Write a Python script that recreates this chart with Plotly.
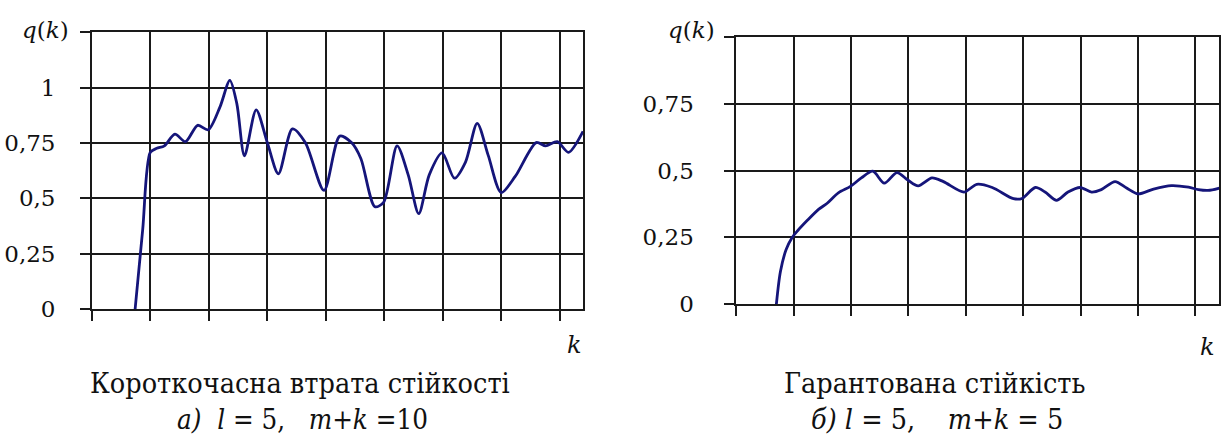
import plotly.graph_objects as go

W, H = 1221, 446

# ---- data (k in grid units, q(k)) ----
left_k = [0.74, 0.87, 1.0, 1.11, 1.24, 1.42, 1.6, 1.81, 1.99, 2.19, 2.36, 2.48, 2.61, 2.81, 3.0, 3.19,
          3.43, 3.65, 3.97, 4.24, 4.44, 4.6, 4.84, 4.99, 5.22, 5.41, 5.59, 5.77, 5.99, 6.2,
          6.39, 6.59, 6.78, 7.0, 7.24, 7.6, 7.76, 7.96, 8.15, 8.4]
left_q = [0.0, 0.36, 0.708, 0.726, 0.737, 0.79, 0.756, 0.83, 0.81, 0.912, 1.033, 0.927, 0.692, 0.9, 0.752, 0.611,
          0.814, 0.752, 0.536, 0.781, 0.752, 0.68, 0.462, 0.482, 0.737, 0.606, 0.431, 0.606, 0.705, 0.591,
          0.664, 0.839, 0.693, 0.526, 0.599, 0.752, 0.737, 0.756, 0.708, 0.803]

right_k = [0.70, 0.77, 0.87, 0.97, 1.07, 1.24, 1.44, 1.58, 1.78, 1.99, 2.18, 2.38, 2.58, 2.80, 2.99,
           3.17, 3.41, 3.61, 3.97, 4.19, 4.46, 4.83, 4.98, 5.21, 5.38, 5.58, 5.78, 5.99, 6.19,
           6.36, 6.60, 6.80, 7.0, 7.27, 7.58, 7.88, 8.05, 8.22, 8.42]
right_q = [0.0, 0.121, 0.205, 0.248, 0.275, 0.314, 0.356, 0.377, 0.417, 0.441, 0.473, 0.498, 0.453, 0.493,
           0.465, 0.443, 0.473, 0.459, 0.420, 0.449, 0.437, 0.395, 0.396, 0.437, 0.420, 0.389, 0.420,
           0.437, 0.420, 0.429, 0.459, 0.435, 0.413, 0.431, 0.444, 0.438, 0.429, 0.426, 0.435]

left_yticks = [0, 0.25, 0.5, 0.75, 1.0, 1.25]
left_ylabels = ["0", "0,25", "0,5", "0,75", "1", ""]
right_yticks = [0, 0.25, 0.5, 0.75, 1.0]
right_ylabels = ["0", "0,25", "0,5", "0,75", ""]
xticks = list(range(0, 9))

captions_left = ["Короткочасна втрата стійкості", "<i>а)</i>  <i>l</i> = 5,   <i>m</i>+<i>k</i> =10"]
captions_right = ["Гарантована стійкість", "<i>б)</i> <i>l</i> = 5,    <i>m</i>+<i>k</i> = 5"]

LINE = "#15157a"
GRID = "#1a1a1a"
FONT = "DejaVu Serif"
CAPFONT = "DejaVu Serif Condensed"

fig = go.Figure()
fig.add_trace(go.Scatter(x=left_k, y=left_q, mode="lines", xaxis="x", yaxis="y",
                         line=dict(color=LINE, width=2.8, shape="spline", smoothing=0.8),
                         showlegend=False, hoverinfo="skip"))
fig.add_trace(go.Scatter(x=right_k, y=right_q, mode="lines", xaxis="x2", yaxis="y2",
                         line=dict(color=LINE, width=2.8, shape="spline", smoothing=0.8),
                         showlegend=False, hoverinfo="skip"))

def px_x(p):
    return p / W

def px_y(p):
    return 1 - p / H

common_x = dict(tickvals=xticks, showticklabels=False, ticks="outside", ticklen=10, tickwidth=1.5,
                tickcolor=GRID, showgrid=True, gridcolor=GRID, gridwidth=1.5, showline=True,
                linecolor=GRID, linewidth=1.5, mirror=True, zeroline=False, fixedrange=True)
common_y = dict(ticks="outside", ticklen=10, tickwidth=1.5, tickcolor=GRID, showgrid=True,
                gridcolor=GRID, gridwidth=1.5, showline=True, linecolor=GRID, linewidth=1.5,
                mirror=True, zeroline=False, fixedrange=True,
                tickfont=dict(family=FONT, size=23, color="#111"))

fig.update_layout(
    width=W, height=H, margin=dict(l=0, r=0, t=0, b=0),
    paper_bgcolor="white", plot_bgcolor="white",
    font=dict(family=FONT),
    xaxis=dict(domain=[px_x(92), px_x(584)], range=[0, 8.4], anchor="y", **common_x),
    yaxis=dict(domain=[px_y(318.3), px_y(33.3)], range=[0, 1.25], anchor="x",
               tickvals=left_yticks, ticktext=left_ylabels, ticklabelstandoff=20, **common_y),
    xaxis2=dict(domain=[px_x(737.4), 1.0], range=[0, 8.41], anchor="y2", **common_x),
    yaxis2=dict(domain=[px_y(313.3), px_y(38.3)], range=[0, 1.0], anchor="x2",
                tickvals=right_yticks, ticktext=right_ylabels, ticklabelstandoff=26, **common_y),
)

ann = []
def label(text, xp, yp, size, family=FONT):
    ann.append(dict(text=text, x=px_x(xp), y=px_y(yp), xref="paper", yref="paper",
                    xanchor="center", yanchor="middle", showarrow=False,
                    font=dict(family=family, size=size, color="#111")))

label("<i>q</i>(<i>k</i>)", 46, 31, 23)
label("<i>q</i>(<i>k</i>)", 693, 31, 23)
label("<i>k</i>", 575, 355, 24)
label("<i>k</i>", 1209, 357, 24)
label(captions_left[0], 300, 395, 28.5, CAPFONT)
label(captions_left[1], 303, 432, 27.5, CAPFONT)
label(captions_right[0], 936, 395, 28.5, CAPFONT)
label(captions_right[1], 939, 432, 28.5, CAPFONT)
fig.update_layout(annotations=ann)

post = (
    "document.documentElement.style.margin='0';document.documentElement.style.overflow='hidden';"
    "document.body.style.margin='0';document.body.style.padding='0';document.body.style.overflow='hidden';"
    "var g=document.querySelector('.plotly-graph-div');"
    "if(g&&g.parentElement){g.parentElement.style.height='446px';g.parentElement.style.overflow='hidden';"
    "g.parentElement.style.lineHeight='0';}"
)
fig.write_html("out.html", config={"displayModeBar": False}, post_script=post)
